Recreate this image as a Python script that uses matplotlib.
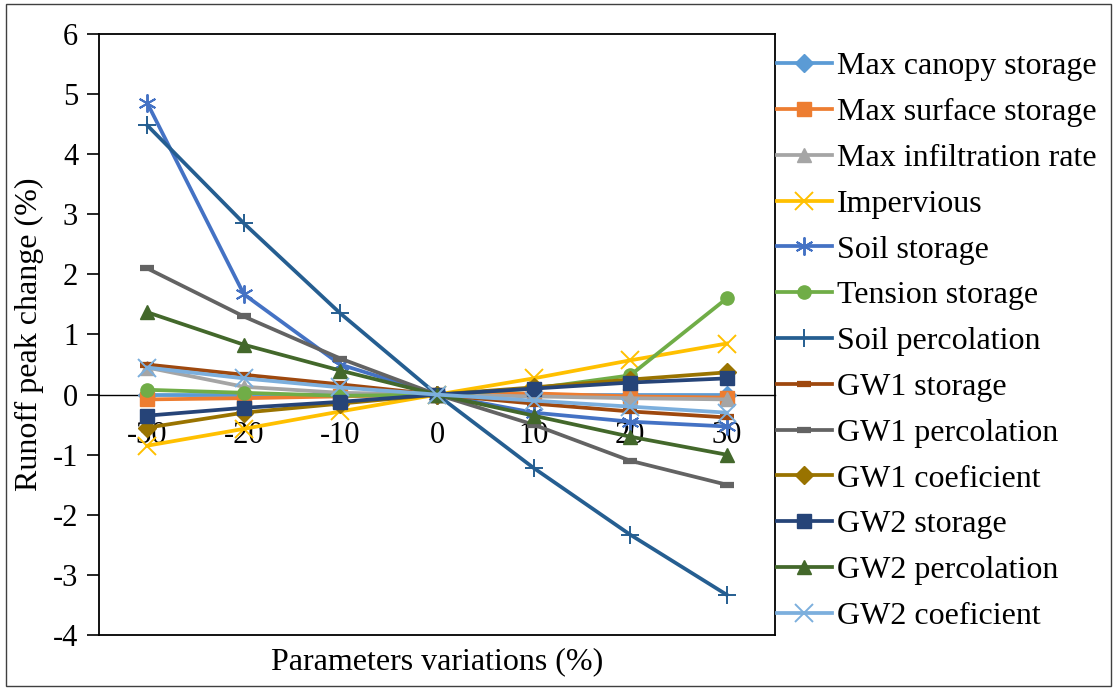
import matplotlib
matplotlib.use("Agg")
import matplotlib.pyplot as plt
from matplotlib.patches import Rectangle

plt.rcParams["font.family"] = ["Liberation Serif", "DejaVu Serif"]
plt.rcParams["axes.unicode_minus"] = False

# parameter variation steps (%)
variations = ["-30", "-20", "-10", "0", "10", "20", "30"]

# runoff peak change (%) per parameter
max_canopy_storage = [0.00, 0.00, 0.00, 0.00, 0.00, 0.00, 0.00]
max_surface_storage = [-0.08, -0.06, -0.03, 0.00, 0.02, -0.03, -0.05]
max_infiltration_rate = [0.45, 0.13, 0.03, 0.00, -0.03, -0.06, -0.08]
impervious = [-0.85, -0.57, -0.28, 0.00, 0.27, 0.57, 0.85]
soil_storage = [4.85, 1.67, 0.50, 0.00, -0.30, -0.45, -0.53]
tension_storage = [0.08, 0.03, -0.02, 0.00, 0.10, 0.32, 1.60]
soil_percolation = [4.48, 2.85, 1.35, 0.00, -1.22, -2.33, -3.33]
gw1_storage = [0.50, 0.33, 0.17, 0.00, -0.15, -0.28, -0.38]
gw1_percolation = [2.10, 1.30, 0.60, 0.00, -0.50, -1.10, -1.50]
gw1_coeficient = [-0.55, -0.30, -0.15, 0.00, 0.12, 0.25, 0.37]
gw2_storage = [-0.35, -0.22, -0.12, 0.00, 0.10, 0.20, 0.27]
gw2_percolation = [1.37, 0.83, 0.40, 0.00, -0.35, -0.70, -1.00]
gw2_coeficient = [0.45, 0.27, 0.12, 0.00, -0.10, -0.20, -0.30]

series = [
    ("Max canopy storage", max_canopy_storage, "#5B9BD5", "D"),
    ("Max surface storage", max_surface_storage, "#ED7D31", "s"),
    ("Max infiltration rate", max_infiltration_rate, "#A5A5A5", "^"),
    ("Impervious", impervious, "#FFC000", "x"),
    ("Soil storage", soil_storage, "#4472C4", (6, 2, 0)),
    ("Tension storage", tension_storage, "#70AD47", "o"),
    ("Soil percolation", soil_percolation, "#255E91", "+"),
    ("GW1 storage", gw1_storage, "#9E480E", "_"),
    ("GW1 percolation", gw1_percolation, "#636363", "_"),
    ("GW1 coeficient", gw1_coeficient, "#997300", "D"),
    ("GW2 storage", gw2_storage, "#264478", "s"),
    ("GW2 percolation", gw2_percolation, "#43682B", "^"),
    ("GW2 coeficient", gw2_coeficient, "#7CAFDD", "x"),
]

TICK_FS = 22
TEXT_FS = 23
W, H = 1113, 688
fig = plt.figure(figsize=(W / 100, H / 100), dpi=100)
ax = fig.add_axes([99 / W, 1 - 635 / H, (775 - 99) / W, (635 - 34) / H])

x = list(range(len(variations)))
for label, vals, color, marker in series:
    big = marker in ("x", "+", (6, 2, 0))
    dash = marker == "_"
    ax.plot(x, vals, color=color, linewidth=2.7, marker=marker,
            markersize=13 if big else (10 if dash else 9.5),
            markeredgewidth=1.4 if big else (4.5 if dash else 1),
            markerfacecolor=color, markeredgecolor=color,
            label=label, clip_on=False, zorder=3)

ax.set_xlim(-0.5, len(variations) - 0.5)
ax.set_ylim(-4, 6)
ax.set_yticks(range(-4, 7))
ax.tick_params(axis="y", direction="out", length=9, width=1.2,
               labelsize=TICK_FS, pad=6)
ax.tick_params(axis="x", bottom=False, labelbottom=False)
for sp in ax.spines.values():
    sp.set_linewidth(1.3)
    sp.set_color("black")

# category axis crossing at y = 0
sec = ax.secondary_xaxis(0.4)
sec.set_xticks(x)
sec.set_xticklabels(variations)
sec.tick_params(length=0, labelsize=TICK_FS, pad=19)
sec.spines["bottom"].set_linewidth(1.0)
sec.set_zorder(1)

ax.set_ylabel("Runoff peak change (%)", fontsize=TEXT_FS, labelpad=6)
fig.text(437 / W, 1 - 662 / H, "Parameters variations (%)",
         fontsize=TEXT_FS, ha="center", va="center")

ax.legend(loc="upper left", bbox_to_anchor=(777 / W, 1 - 52 / H),
          bbox_transform=fig.transFigure, frameon=False, fontsize=TEXT_FS,
          handlelength=1.72, handletextpad=0.16, labelspacing=0.515,
          borderaxespad=0, borderpad=0)

fig.add_artist(Rectangle((6 / W, 2 / H), 1105 / W, 682 / H,
                         transform=fig.transFigure, fill=False,
                         edgecolor="#404040", linewidth=1.0))

fig.savefig("out.png", dpi=100)
